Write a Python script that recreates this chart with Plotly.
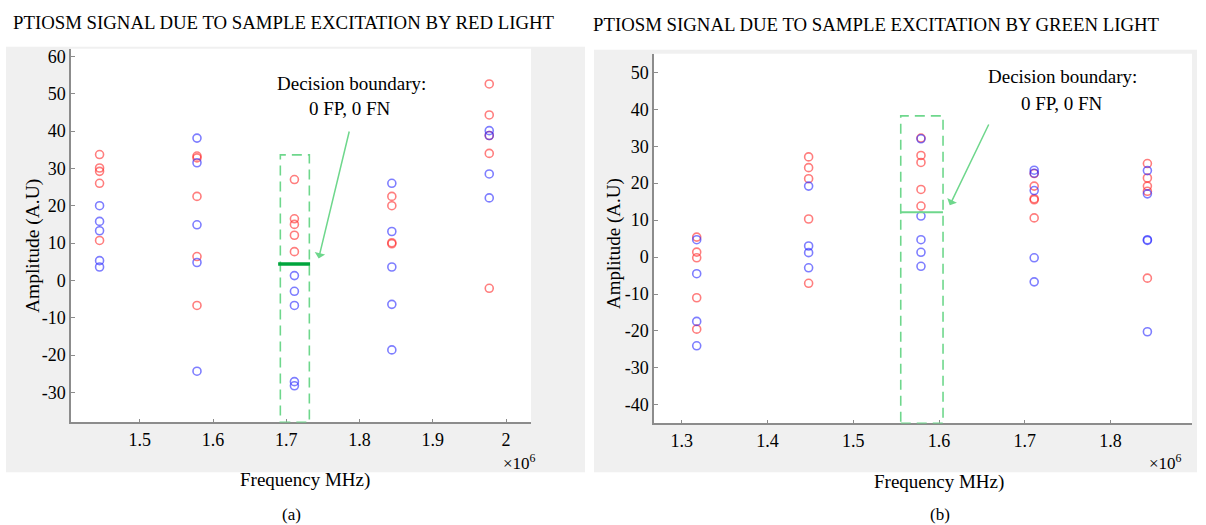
import plotly.graph_objects as go

# ---------------- data (frequencies in Hz, amplitudes in A.U) ----------------
# Panel (a): red light excitation
freq_a = [1.445e6, 1.578e6, 1.711e6, 1.844e6, 1.977e6]
red_a = [
    [33.7, 30.1, 29.2, 26.0, 10.7],
    [33.3, 32.8, 22.5, 6.4, -6.7],
    [27.0, 16.5, 15.0, 12.1, 7.7],
    [22.5, 20.0, 10.1, 9.8],
    [52.6, 44.3, 38.8, 34.0, -2.1],
]
blue_a = [
    [20.0, 15.8, 13.3, 5.3, 3.6],
    [38.1, 31.5, 14.9, 4.8, -24.3],
    [1.3, -2.9, -6.7, -27.1, -28.2],
    [26.0, 13.1, 3.6, -6.4, -18.6],
    [40.1, 38.8, 28.5, 22.1],
]
# Panel (b): green light excitation
freq_b = [1.3175e6, 1.448e6, 1.579e6, 1.711e6, 1.843e6]
red_b = [
    [5.4, 1.35, -0.2, -11.0, -19.5],
    [27.1, 24.2, 21.2, 10.3, -7.1],
    [32.2, 27.5, 25.6, 18.3, 13.8],
    [22.6, 19.2, 15.8, 15.5, 10.6],
    [25.3, 21.4, 19.2, 17.8, -5.7],
]
blue_b = [
    [4.7, -4.5, -17.4, -24.0],
    [19.2, 3.0, 1.2, -2.9],
    [32.0, 11.1, 4.7, 1.3, -2.5],
    [23.5, 22.7, 18.0, -0.2, -6.7],
    [23.4, 17.1, 4.7, 4.5, -20.2],
]

# decision boundaries
boundary_a = 4.4
box_a = dict(x0=1.6918e6, x1=1.7314e6, top=33.6)
boundary_b = 12.1
box_b = dict(x0=1.5554e6, x1=1.6047e6, top=38.2)

# axis ticks
xticks_a = [1.5e6, 1.6e6, 1.7e6, 1.8e6, 1.9e6, 2.0e6]
xtick_text_a = ["1.5", "1.6", "1.7", "1.8", "1.9", "2"]
yticks_a = [-30, -20, -10, 0, 10, 20, 30, 40, 50, 60]
ytick_text_a = ["-30", "-20", "-10", "0", "10", "20", "30", "40", "50", "60"]
xticks_b = [1.3e6, 1.4e6, 1.5e6, 1.6e6, 1.7e6, 1.8e6]
xtick_text_b = ["1.3", "1.4", "1.5", "1.6", "1.7", "1.8"]
yticks_b = [-40, -30, -20, -10, 0, 10, 20, 30, 40, 50]
ytick_text_b = ["-40", "-30", "-20", "-10", "0", "10", "20", "30", "40", "50"]

xrange_a = [1.406e6, 2.034e6]
yrange_a = [-38, 62]
xrange_b = [1.2677e6, 1.895e6]
yrange_b = [-45, 55]

title_a = "PTIOSM SIGNAL DUE TO SAMPLE EXCITATION BY RED LIGHT"
title_b = "PTIOSM SIGNAL DUE TO SAMPLE EXCITATION BY GREEN LIGHT"

# ---------------- figure ----------------
W, H = 1206, 525
FONT = "Liberation Serif"
RED = "rgba(255,40,40,0.6)"
BLUE = "rgba(40,40,255,0.6)"
GREEN_LIGHT = "rgb(110,215,140)"
GREEN_DARK = "rgb(0,165,60)"
GRAY_BG = "rgb(240,240,240)"
AXIS = "rgb(140,140,140)"


def px(x):
    return x / W


def py(y):
    return 1 - y / H


fig = go.Figure()


def flat(freqs, groups):
    xs, ys = [], []
    for f, g in zip(freqs, groups):
        for v in g:
            xs.append(f)
            ys.append(v)
    return xs, ys


def add_points(freqs, groups, color, xa, ya):
    xs, ys = flat(freqs, groups)
    fig.add_trace(go.Scatter(
        x=xs, y=ys, mode="markers", xaxis=xa, yaxis=ya, showlegend=False,
        marker=dict(symbol="circle-open", size=8, color=color,
                    line=dict(width=1.6, color=color)),
    ))


add_points(freq_a, red_a, RED, "x", "y")
add_points(freq_a, blue_a, BLUE, "x", "y")
add_points(freq_b, red_b, RED, "x2", "y2")
add_points(freq_b, blue_b, BLUE, "x2", "y2")

axis_common = dict(showgrid=False, zeroline=False, showline=True, linecolor=AXIS,
                   linewidth=1.5, ticks="inside", ticklen=4, tickcolor=AXIS,
                   tickfont=dict(family=FONT, size=18, color="black"), mirror=False)

fig.update_layout(
    width=W, height=H, autosize=False,
    margin=dict(l=0, r=0, t=0, b=0),
    paper_bgcolor="white", plot_bgcolor="white",
    xaxis=dict(domain=[px(71), px(531)], range=xrange_a, tickvals=xticks_a,
               ticktext=xtick_text_a, anchor="y", **axis_common),
    yaxis=dict(domain=[py(422), py(47)], range=yrange_a, tickvals=yticks_a,
               ticktext=ytick_text_a, anchor="x", **axis_common),
    xaxis2=dict(domain=[px(654), px(1192)], range=xrange_b, tickvals=xticks_b,
                ticktext=xtick_text_b, anchor="y2", **axis_common),
    yaxis2=dict(domain=[py(423), py(52)], range=yrange_b, tickvals=yticks_b,
                ticktext=ytick_text_b, anchor="x2", **axis_common),
)

shapes = [
    # gray figure backgrounds
    dict(type="rect", xref="paper", yref="paper", x0=px(6), x1=px(585),
         y0=py(472), y1=py(45), fillcolor=GRAY_BG, line=dict(width=0), layer="below"),
    dict(type="rect", xref="paper", yref="paper", x0=px(594), x1=px(1197),
         y0=py(472), y1=py(48), fillcolor=GRAY_BG, line=dict(width=0), layer="below"),
    # white plot areas
    dict(type="rect", xref="x domain", yref="y domain", x0=0, x1=1, y0=0, y1=1,
         fillcolor="white", line=dict(width=0), layer="below"),
    dict(type="rect", xref="x2 domain", yref="y2 domain", x0=0, x1=1, y0=0, y1=1,
         fillcolor="white", line=dict(width=0), layer="below"),
    # dashed boxes
    dict(type="rect", xref="x", yref="y", x0=box_a["x0"], x1=box_a["x1"],
         y0=yrange_a[0], y1=box_a["top"],
         line=dict(color=GREEN_LIGHT, width=1.6, dash="10px,6px")),
    dict(type="rect", xref="x2", yref="y2", x0=box_b["x0"], x1=box_b["x1"],
         y0=yrange_b[0], y1=box_b["top"],
         line=dict(color=GREEN_LIGHT, width=1.6, dash="10px,6px")),
    # decision boundaries
    dict(type="line", xref="x", yref="y", x0=box_a["x0"] - 3e3, x1=box_a["x1"] + 1e3,
         y0=boundary_a, y1=boundary_a, line=dict(color=GREEN_DARK, width=3.5)),
    dict(type="line", xref="x2", yref="y2", x0=box_b["x0"], x1=box_b["x1"],
         y0=boundary_b, y1=boundary_b, line=dict(color=GREEN_LIGHT, width=2)),
]
fig.update_layout(shapes=shapes)

ann = []


def text(x, y, s, size=17, angle=0, xanchor="center"):
    ann.append(dict(x=px(x), y=py(y), xref="paper", yref="paper", text=s,
                    showarrow=False, textangle=angle, xanchor=xanchor, yanchor="middle",
                    font=dict(family=FONT, size=size, color="black")))


text(11, 21, title_a, size=18.8, xanchor="left")
text(591, 23, title_b, size=18.8, xanchor="left")
text(33, 245, "Amplitude (A.U)", size=19.5, angle=-90)
text(614, 243, "Amplitude (A.U)", size=19, angle=-90)
text(305, 480, "Frequency MHz)", size=19)
text(939, 482, "Frequency MHz)", size=19)
text(291, 514, "(a)", size=17)
text(940, 514, "(b)", size=17)
text(519, 462, "×10<sup>6</sup>", size=17)
text(1165, 462, "×10<sup>6</sup>", size=17)
text(351, 82, "Decision boundary:", size=19)
text(350, 107, "0 FP, 0 FN", size=19)
text(1062, 75, "Decision boundary:", size=19)
text(1062, 102, "0 FP, 0 FN", size=19)

# arrows
ann.append(dict(x=1.7441e6, y=5.9, ax=1.7865e6, ay=40.4, xref="x", yref="y",
                axref="x", ayref="y", showarrow=True, arrowhead=1, arrowsize=1.2,
                arrowwidth=1.5, arrowcolor=GREEN_LIGHT, text=" ",
                font=dict(size=1)))
ann.append(dict(x=1.6125e6, y=14.0, ax=1.6591e6, ay=36.4, xref="x2", yref="y2",
                axref="x2", ayref="y2", showarrow=True, arrowhead=1, arrowsize=1.2,
                arrowwidth=1.5, arrowcolor=GREEN_LIGHT, text=" ",
                font=dict(size=1)))
fig.update_layout(annotations=ann)

fig.write_html("out.html", config={"displayModeBar": False},
               post_script="document.body.style.margin='0';")
